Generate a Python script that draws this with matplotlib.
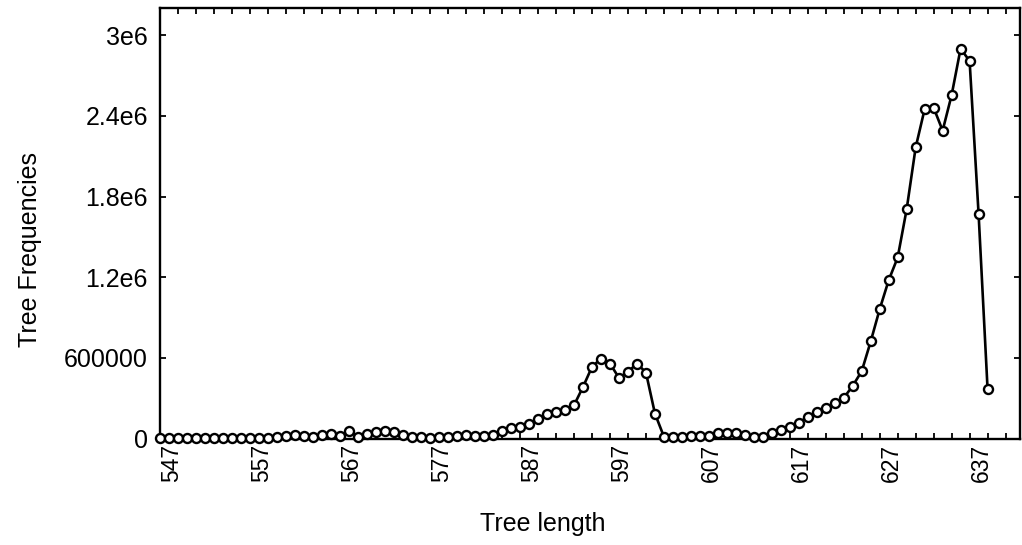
import matplotlib
matplotlib.use("Agg")
import matplotlib.pyplot as plt
from matplotlib.ticker import FixedLocator, MultipleLocator

plt.rcParams['font.family'] = ['Liberation Sans', 'DejaVu Sans']

# Tree length values (one point per unit, 547..639)
tree_length = list(range(547, 640))

tree_freq = [
    4000, 4000, 4000, 4000, 4000, 4000, 4000, 4000, 4000, 5000,   # 547-556
    6000, 7000, 8000, 10000, 20000, 25000, 20000, 15000, 25000, 35000,  # 557-566
    20000, 55000, 15000, 35000, 50000, 55000, 50000, 30000, 15000, 10000,  # 567-576
    8000, 10000, 13000, 22000, 26000, 19000, 19000, 26000, 58000, 83000,  # 577-586
    88000, 108000, 150000, 187000, 199000, 212000, 249000, 385000, 534000, 596000,  # 587-596
    559000, 452000, 497000, 559000, 492000, 187000, 15000, 13000, 10000, 21000,  # 597-606
    21000, 21000, 39000, 46000, 46000, 26000, 15000, 15000, 43000, 68000,  # 607-616
    88000, 120000, 162000, 195000, 225000, 262000, 303000, 393000, 502000, 723000,  # 617-626
    963000, 1178000, 1347000, 1706000, 2165000, 2450000, 2460000, 2290000, 2554000, 2900000,  # 627-636
    2807000, 1669000, 366000,  # 637-639
]

major_ticks = list(range(547, 640, 10))
ytick_vals = [0, 600000, 1200000, 1800000, 2400000, 3000000]
ytick_labels = ["0", "600000", "1.2e6", "1.8e6", "2.4e6", "3e6"]

fig = plt.figure(figsize=(10.22, 5.45), dpi=100)
ax = fig.add_axes([0.157, 0.195, 0.841, 0.790])

ax.plot(tree_length, tree_freq, color='black', lw=1.9, marker='o',
        markersize=6.5, markerfacecolor='white', markeredgecolor='black',
        markeredgewidth=1.7, clip_on=False, zorder=3)

ax.set_xlim(547, 642.6)
ax.set_ylim(0, 3.2e6)

ax.xaxis.set_major_locator(FixedLocator(major_ticks))
ax.xaxis.set_minor_locator(MultipleLocator(2, offset=1))
ax.set_xticklabels([str(t) for t in major_ticks], rotation=90,
                   ha='left', va='top', fontsize=16.5)
ax.set_yticks(ytick_vals)
ax.set_yticklabels(ytick_labels, fontsize=18)

ax.tick_params(axis='both', which='both', direction='in', top=True,
               right=True, length=4, width=1.3, color='black')
ax.tick_params(axis='x', which='major', pad=4)
ax.tick_params(axis='y', which='major', pad=9)

for s in ax.spines.values():
    s.set_linewidth(1.7)
    s.set_color('black')

ax.set_xlabel("Tree length", fontsize=18)
ax.set_ylabel("Tree Frequencies", fontsize=18)
ax.xaxis.set_label_coords(0.445, -0.17)
ax.yaxis.set_label_coords(-0.138, 0.44)

fig.savefig("out.png", dpi=100)
